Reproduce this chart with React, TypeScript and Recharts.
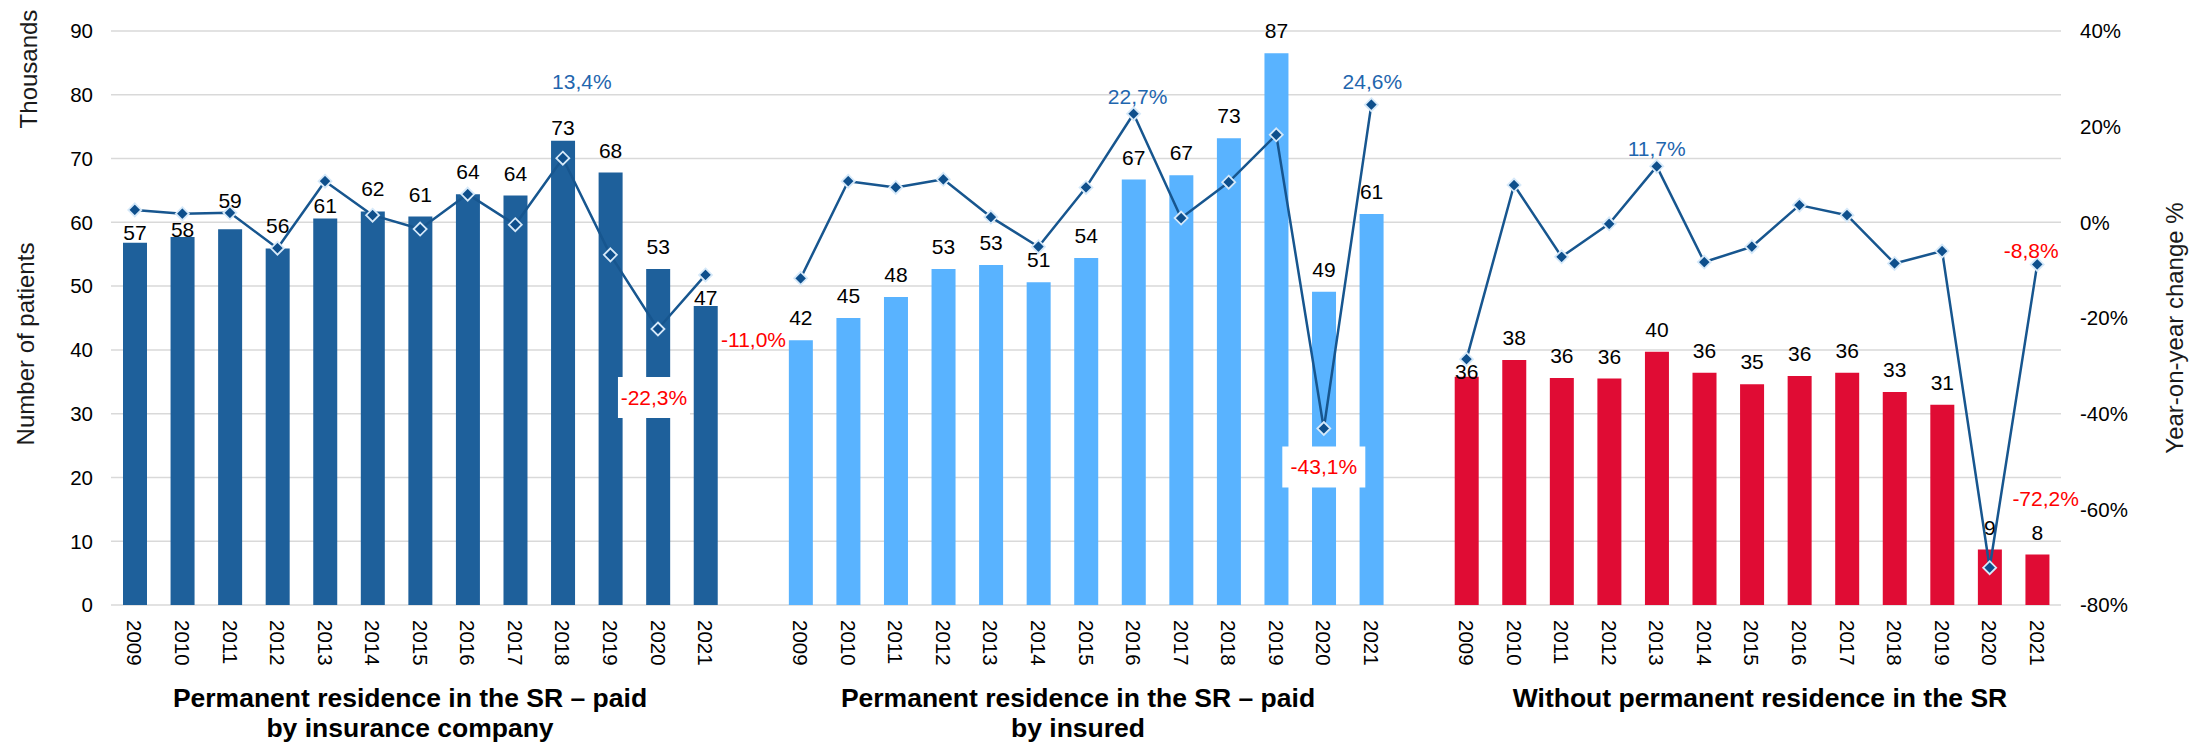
import React from 'react'
import {
  ComposedChart,
  Bar,
  Line,
  XAxis,
  YAxis,
  CartesianGrid,
  Cell,
  LabelList,
} from 'recharts'

// --- data (thousands of patients, year-on-year change in %) ---
const years = ['2009', '2010', '2011', '2012', '2013', '2014', '2015', '2016', '2017', '2018', '2019', '2020', '2021']

const paidByInsurer = [56.8, 57.7, 58.9, 55.9, 60.6, 61.7, 60.9, 64.4, 64.2, 72.8, 67.8, 52.7, 46.9]
const paidByInsured = [41.5, 45.0, 48.3, 52.7, 53.3, 50.6, 54.4, 66.7, 67.4, 73.2, 86.5, 49.1, 61.3]
const nonResident = [35.8, 38.4, 35.6, 35.5, 39.7, 36.4, 34.6, 35.9, 36.4, 33.4, 31.4, 8.7, 7.9]

const changeInsurer = [2.6, 1.8, 2.0, -5.4, 8.6, 1.5, -1.4, 5.9, -0.5, 13.4, -6.8, -22.3, -11.0]
const changeInsured = [-11.7, 8.6, 7.3, 9.0, 1.1, -5.1, 7.3, 22.7, 0.9, 8.4, 18.3, -43.1, 24.6]
const changeNonResident = [-28.6, 7.8, -7.2, -0.3, 11.7, -8.3, -5.1, 3.6, 1.5, -8.6, -6.0, -72.2, -8.8]

const leftTicks = [0, 10, 20, 30, 40, 50, 60, 70, 80, 90]
const rightTicks = [-80, -60, -40, -20, 0, 20, 40]

const groupTitles = [
  ['Permanent residence in the SR – paid', 'by insurance company'],
  ['Permanent residence in the SR – paid', 'by insured'],
  ['Without permanent residence in the SR'],
]

const groups = [
  { patients: paidByInsurer, change: changeInsurer, color: '#1E609B' },
  { patients: paidByInsured, change: changeInsured, color: '#59B3FF' },
  { patients: nonResident, change: changeNonResident, color: '#E00C34' },
]

type Row = {
  id: string
  year: string
  group: number
  patients: number | null
  change: number | null
  c0: number | null
  c1: number | null
  c2: number | null
}

const rows: Row[] = []
groups.forEach((g, gi) => {
  if (gi > 0) {
    rows.push({ id: `gap${gi}`, year: '', group: -1, patients: null, change: null, c0: null, c1: null, c2: null })
  }
  years.forEach((y, i) => {
    rows.push({
      id: `g${gi + 1}-${y}`,
      year: y,
      group: gi,
      patients: g.patients[i],
      change: g.change[i],
      c0: gi === 0 ? g.change[i] : null,
      c1: gi === 1 ? g.change[i] : null,
      c2: gi === 2 ? g.change[i] : null,
    })
  })
})
const rowById: Record<string, Row> = {}
rows.forEach((r) => (rowById[r.id] = r))

// label placement tweaks (hand-moved labels in the original)
const barLabelGap: Record<string, number> = {
  'g1-2009': 3,
  'g1-2010': 0,
  'g1-2011': 21,
  'g1-2013': 6,
  'g1-2018': 6,
  'g1-2021': 1,
  'g3-2009': -2,
}
const changeLabels: Record<string, { dx: number; dy: number; box?: number }> = {
  'g1-2018': { dx: 19, dy: -77 },
  'g1-2020': { dx: -4, dy: 68, box: 72 },
  'g1-2021': { dx: 48, dy: 65 },
  'g2-2016': { dx: 4, dy: -17 },
  'g2-2020': { dx: 0, dy: 38, box: 83 },
  'g2-2021': { dx: 1, dy: -23 },
  'g3-2013': { dx: 0, dy: -18 },
  'g3-2020': { dx: 56, dy: -69 },
  'g3-2021': { dx: -6, dy: -14 },
}

const FONT = '"Liberation Sans", Arial, sans-serif'
const LINE_COLOR = '#17568F'

const renderDot = (p: any) => {
  const { cx, cy, index, value, dataKey } = p
  const key = `dot-${dataKey}-${index}`
  if (value == null || cx == null || cy == null) return <g key={key} />
  const s = 6.5
  return (
    <path
      key={key}
      d={`M${cx},${cy - s}L${cx + s},${cy}L${cx},${cy + s}L${cx - s},${cy}Z`}
      fill="#0E4F8C"
      stroke="#D6E9F9"
      strokeWidth={1.8}
    />
  )
}

const renderBarLabel = (p: any) => {
  const row = rowById[p.value]
  if (!row || row.patients == null || p.y == null) return null
  const gap = barLabelGap[row.id] ?? 15
  return (
    <text x={p.x + p.width / 2} y={p.y - gap} textAnchor="middle" fontSize={21} fontFamily={FONT} fill="#000">
      {Math.round(row.patients)}
    </text>
  )
}

const changeLabelFor = (key: 'c0' | 'c1' | 'c2') => (p: any) => {
  const cfg = changeLabels[p.value]
  const row = rowById[p.value]
  if (!cfg || !row || row[key] == null || p.x == null || p.y == null) return null
  const v = row[key] as number
  const cx = p.x + cfg.dx
  const cy = p.y + cfg.dy
  const text = v.toFixed(1).replace('.', ',') + '%'
  return (
    <g>
      {cfg.box && <rect x={cx - cfg.box / 2} y={cy - 20} width={cfg.box} height={41} fill="#fff" />}
      <text
        x={cx}
        y={cy + 7.5}
        textAnchor="middle"
        fontSize={21}
        fontFamily={FONT}
        fill={v >= 0 ? '#1F66AE' : '#FF0000'}
      >
        {text}
      </text>
    </g>
  )
}

const renderYearTick = (p: any) => {
  const row = rowById[p.payload.value]
  if (!row || !row.year) return <g />
  return (
    <g transform={`translate(${p.x},${p.y}) rotate(90)`}>
      <text x={0} y={0} dy="0.36em" textAnchor="start" fontSize={20.5} fontFamily={FONT} fill="#000">
        {row.year}
      </text>
    </g>
  )
}

const renderLeftTick = (p: any) => (
  <text x={p.x} y={p.y} dy="0.36em" textAnchor="end" fontSize={20.5} fontFamily={FONT} fill="#000">
    {p.payload.value}
  </text>
)

const renderRightTick = (p: any) => (
  <text x={p.x} y={p.y} dy="0.36em" textAnchor="start" fontSize={20.5} fontFamily={FONT} fill="#000">
    {`${p.payload.value}%`}
  </text>
)

const lineKeys: ('c0' | 'c1' | 'c2')[] = ['c0', 'c1', 'c2']
const titleX = [410, 1078, 1760]

export default function App() {
  return (
    <div style={{ position: 'absolute', left: 0, top: 0, width: 2203, height: 744, background: '#fff', fontFamily: FONT }}>
      <ComposedChart width={2203} height={744} data={rows} margin={{ top: 31, right: 0, bottom: 0, left: 0 }}>
        <CartesianGrid yAxisId="left" vertical={false} stroke="#D9D9D9" strokeWidth={1.5} />
        <XAxis
          dataKey="id"
          interval={0}
          height={139}
          tickSize={0}
          tickMargin={15}
          axisLine={false}
          tickLine={false}
          tick={renderYearTick}
        />
        <YAxis
          yAxisId="left"
          domain={[0, 90]}
          ticks={leftTicks}
          width={111}
          tickSize={0}
          tickMargin={18}
          axisLine={false}
          tickLine={false}
          tick={renderLeftTick}
        />
        <YAxis
          yAxisId="right"
          orientation="right"
          domain={[-80, 40]}
          ticks={rightTicks}
          width={142}
          tickSize={0}
          tickMargin={19}
          axisLine={false}
          tickLine={false}
          tick={renderRightTick}
        />
        <Bar yAxisId="left" dataKey="patients" barSize={24} isAnimationActive={false}>
          {rows.map((r) => (
            <Cell key={r.id} fill={r.group >= 0 ? groups[r.group].color : 'none'} />
          ))}
          <LabelList dataKey="id" content={renderBarLabel} />
        </Bar>
        {lineKeys.map((k) => (
          <Line
            key={k}
            yAxisId="right"
            dataKey={k}
            stroke={LINE_COLOR}
            strokeWidth={2.5}
            strokeLinejoin="round"
            dot={renderDot}
            activeDot={false}
            connectNulls={false}
            isAnimationActive={false}
          >
            <LabelList dataKey="id" content={changeLabelFor(k)} />
          </Line>
        ))}
      </ComposedChart>
      <svg
        width={2203}
        height={744}
        style={{ position: 'absolute', left: 0, top: 0, pointerEvents: 'none' }}
        fontFamily={FONT}
      >
        <text transform="translate(37,69) rotate(-90)" textAnchor="middle" fontSize={24} fill="#1a1a1a">
          Thousands
        </text>
        <text transform="translate(33.5,344) rotate(-90)" textAnchor="middle" fontSize={24} fill="#1a1a1a">
          Number of patients
        </text>
        <text transform="translate(2183,328) rotate(-90)" textAnchor="middle" fontSize={24} fill="#1a1a1a">
          Year-on-year change %
        </text>
        {groupTitles.map((lines, gi) => (
          <text key={gi} x={titleX[gi]} y={707} textAnchor="middle" fontSize={26.5} fontWeight="bold" fill="#000">
            {lines.map((t, li) => (
              <tspan key={li} x={titleX[gi]} dy={li === 0 ? 0 : 30}>
                {t}
              </tspan>
            ))}
          </text>
        ))}
      </svg>
    </div>
  )
}
